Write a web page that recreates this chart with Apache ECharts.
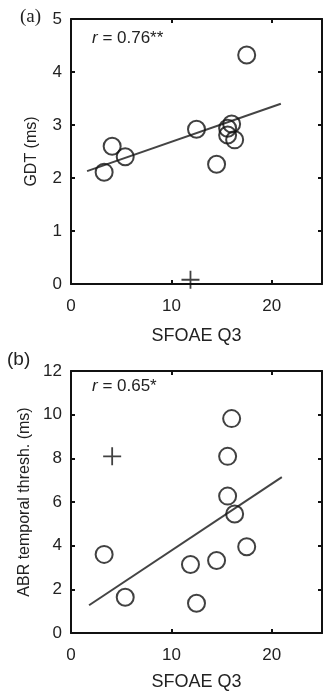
<!DOCTYPE html>
<html>
<head>
<meta charset="utf-8">
<script src="https://cdn.jsdelivr.net/npm/echarts@6/dist/echarts.min.js"></script>
<style>
  html, body { margin: 0; padding: 0; background: #fff; }
  #chart { width: 325px; height: 692px; }
</style>
</head>
<body>
<div id="chart"></div>
<script>
// panel (a): GDT vs SFOAE Q3
var gdtX = [3.3, 4.1, 5.4, 12.5, 14.5, 15.6, 15.6, 16.0, 16.3, 17.5];
var gdtY = [2.11, 2.60, 2.40, 2.92, 2.26, 2.94, 2.81, 3.02, 2.72, 4.32];
var gdtOutlier = [11.9, 0.08];
var gdtFit = [[1.6, 2.13], [20.9, 3.40]];

// panel (b): ABR temporal threshold vs SFOAE Q3
var abrX = [3.3, 5.4, 11.9, 12.5, 14.5, 15.6, 15.6, 16.0, 16.3, 17.5];
var abrY = [3.60, 1.64, 3.14, 1.36, 3.32, 8.09, 6.27, 9.82, 5.45, 3.95];
var abrOutlier = [4.1, 8.09];
var abrFit = [[1.8, 1.27], [21.0, 7.14]];

var xTicks = [0, 10, 20];
var font = 'Liberation Sans, Arial, sans-serif';
var plus = 'path://M0,9L20,9L20,11L0,11Z M9,0L11,0L11,20L9,20Z';

function pairs(xs, ys) {
  return xs.map(function (x, i) { return [x, ys[i]]; });
}

function xAxisFun(gridIndex, top, gap) {
  return {
    gridIndex: gridIndex,
    type: 'value',
    position: top ? 'top' : 'bottom',
    min: 0, max: 25, interval: 10,
    name: top ? '' : 'SFOAE Q3',
    nameLocation: 'middle',
    nameGap: gap || 0,
    nameTextStyle: { color: '#222', fontSize: 18, fontFamily: font },
    axisLine: { show: true, onZero: false, lineStyle: { color: '#111', width: 2 } },
    axisTick: { show: true, inside: true, length: 4, lineStyle: { color: '#111', width: 2 } },
    axisLabel: {
      show: !top, color: '#222', fontSize: 17, fontFamily: font, margin: 14,
      formatter: function (v) { return xTicks.indexOf(v) >= 0 ? v : ''; }
    },
    splitLine: { show: false }
  };
}

function yAxisFun(gridIndex, right, max, interval, name, gap) {
  return {
    gridIndex: gridIndex,
    type: 'value',
    position: right ? 'right' : 'left',
    min: 0, max: max, interval: interval,
    name: right ? '' : name,
    nameLocation: 'middle',
    nameGap: gap,
    nameTextStyle: { color: '#222', fontSize: 16, fontFamily: font },
    axisLine: { show: true, onZero: false, lineStyle: { color: '#111', width: 2 } },
    axisTick: { show: true, inside: true, length: 4, lineStyle: { color: '#111', width: 2 } },
    axisLabel: { show: !right, color: '#222', fontSize: 17, fontFamily: font, margin: 9 },
    splitLine: { show: false }
  };
}

function circles(xAxisIndex, yAxisIndex, data) {
  return {
    type: 'scatter',
    xAxisIndex: xAxisIndex, yAxisIndex: yAxisIndex,
    symbol: 'circle', symbolSize: 17,
    itemStyle: { color: 'rgba(0,0,0,0)', borderColor: '#111', borderWidth: 2 },
    data: data,
    z: 3
  };
}

function cross(xAxisIndex, yAxisIndex, pt) {
  return {
    type: 'scatter',
    xAxisIndex: xAxisIndex, yAxisIndex: yAxisIndex,
    symbol: plus, symbolSize: 18,
    itemStyle: { color: '#111' },
    data: [pt],
    z: 4
  };
}

function fitLine(xAxisIndex, yAxisIndex, data) {
  return {
    type: 'line',
    xAxisIndex: xAxisIndex, yAxisIndex: yAxisIndex,
    showSymbol: false,
    lineStyle: { color: '#444', width: 2 },
    data: data,
    z: 2
  };
}

var chart = echarts.init(document.getElementById('chart'), null, { renderer: 'canvas' });

var option = {
  backgroundColor: '#fff',
  animation: false,
  grid: [
    { left: 71, right: -2, top: 19, height: 265 },
    { left: 71, right: -2, top: 371, height: 264 }
  ],
  xAxis: [
    xAxisFun(0, false, 43), xAxisFun(0, true),
    xAxisFun(1, false, 40), xAxisFun(1, true)
  ],
  yAxis: [
    yAxisFun(0, false, 5, 1, 'GDT (ms)', 31), yAxisFun(0, true, 5, 1, '', 0),
    yAxisFun(1, false, 12, 2, 'ABR temporal thresh. (ms)', 37), yAxisFun(1, true, 12, 2, '', 0)
  ],
  graphic: [
    { type: 'text', left: 20, top: 8, style: { text: '(a)', fontSize: 19, fontFamily: 'Liberation Serif, serif', fill: '#222' } },
    { type: 'text', left: 7, top: 350, style: { text: '(b)', fontSize: 19, fontFamily: font, fill: '#222' } },
    {
      type: 'text', left: 92, top: 30,
      style: {
        text: '{i|r} = 0.76**',
        fontSize: 17, fontFamily: font, fill: '#222',
        rich: { i: { fontStyle: 'italic', fontSize: 17, fontFamily: font, fill: '#222' } }
      }
    },
    {
      type: 'text', left: 92, top: 378,
      style: {
        text: '{i|r} = 0.65*',
        fontSize: 17, fontFamily: font, fill: '#222',
        rich: { i: { fontStyle: 'italic', fontSize: 17, fontFamily: font, fill: '#222' } }
      }
    }
  ],
  series: [
    fitLine(0, 0, gdtFit),
    circles(0, 0, pairs(gdtX, gdtY)),
    cross(0, 0, gdtOutlier),
    fitLine(2, 2, abrFit),
    circles(2, 2, pairs(abrX, abrY)),
    cross(2, 2, abrOutlier)
  ]
};

chart.setOption(option);
</script>
</body>
</html>
